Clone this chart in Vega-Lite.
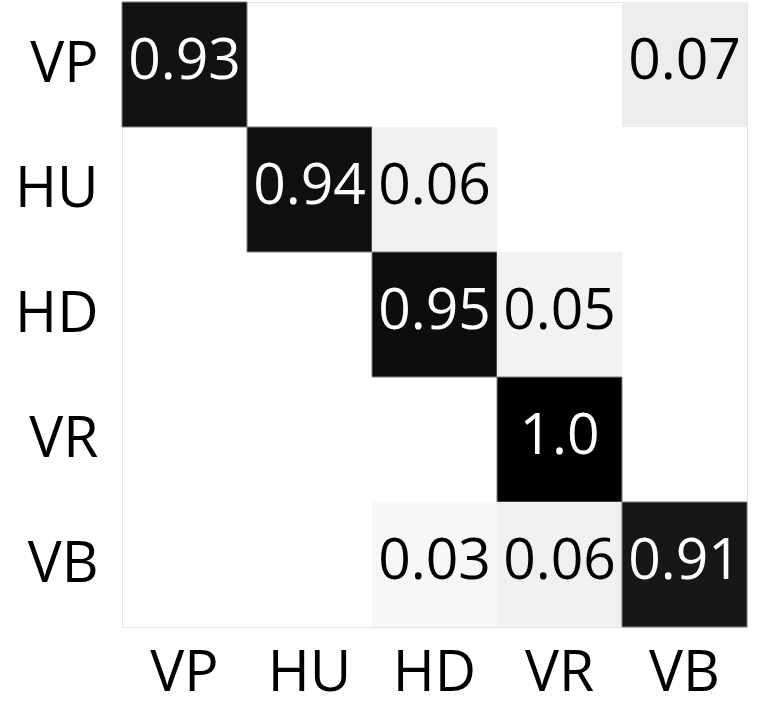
{
  "$schema": "https://vega.github.io/schema/vega-lite/v6.json",
  "width": 625,
  "height": 625,
  "autosize": "none",
  "padding": {"left": 122, "top": 2, "right": 11, "bottom": 90},
  "background": "white",
  "config": {"view": {"stroke": "#e4e4e4", "strokeWidth": 1}},
  "data": {"values": [
    {"actual": "VP", "predicted": "VP", "value": 0.93, "label": "0.93"},
    {"actual": "VP", "predicted": "VB", "value": 0.07, "label": "0.07"},
    {"actual": "HU", "predicted": "HU", "value": 0.94, "label": "0.94"},
    {"actual": "HU", "predicted": "HD", "value": 0.06, "label": "0.06"},
    {"actual": "HD", "predicted": "HD", "value": 0.95, "label": "0.95"},
    {"actual": "HD", "predicted": "VR", "value": 0.05, "label": "0.05"},
    {"actual": "VR", "predicted": "VR", "value": 1.0, "label": "1.0"},
    {"actual": "VB", "predicted": "HD", "value": 0.03, "label": "0.03"},
    {"actual": "VB", "predicted": "VR", "value": 0.06, "label": "0.06"},
    {"actual": "VB", "predicted": "VB", "value": 0.91, "label": "0.91"}
  ]},
  "encoding": {
    "x": {"field": "predicted", "type": "nominal", "sort": ["VP", "HU", "HD", "VR", "VB"],
      "scale": {"domain": ["VP", "HU", "HD", "VR", "VB"], "paddingInner": 0, "paddingOuter": 0},
      "axis": {"title": null, "labelAngle": 0, "labelFont": "Open Sans", "labelFontSize": 57, "labelColor": "#000", "labelPadding": 18, "ticks": false, "domain": false, "labelBaseline": "top"}},
    "y": {"field": "actual", "type": "nominal", "sort": ["VP", "HU", "HD", "VR", "VB"],
      "scale": {"domain": ["VP", "HU", "HD", "VR", "VB"], "paddingInner": 0, "paddingOuter": 0},
      "axis": {"title": null, "labelFont": "Open Sans", "labelFontSize": 57, "labelColor": "#000", "labelPadding": 24, "ticks": false, "domain": false}}
  },
  "layer": [
    {"mark": {"type": "rect"},
     "encoding": {
       "color": {"field": "value", "type": "quantitative", "scale": {"domain": [0, 1], "range": ["#ffffff", "#000000"], "interpolate": "rgb"}, "legend": null},
       "stroke": {"condition": {"test": "datum.value > 0.5", "value": "#808080"}, "value": null},
       "strokeWidth": {"value": 1}
     }},
    {"mark": {"type": "text", "font": "Open Sans", "fontSize": 57, "baseline": "middle", "align": "center", "dy": -3},
     "encoding": {
       "text": {"field": "label", "type": "nominal"},
       "color": {"condition": {"test": "datum.value > 0.5", "value": "#ffffff"}, "value": "#000000"}
     }}
  ]
}
